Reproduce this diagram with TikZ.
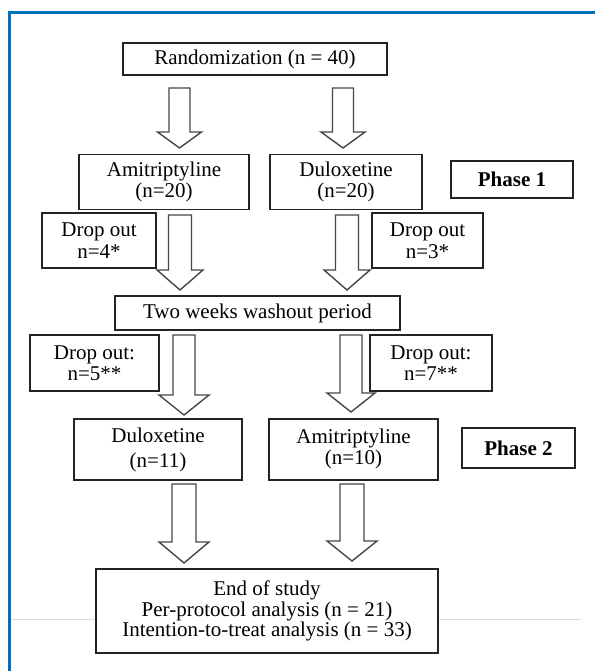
\documentclass[tikz,border=0pt]{standalone}
\usepackage{fontspec}
\setmainfont{Liberation Serif}
\definecolor{frameblue}{RGB}{0,112,192}
\definecolor{boxline}{RGB}{35,35,35}
\definecolor{arrowline}{RGB}{70,70,70}
\definecolor{faintgray}{RGB}{220,220,220}
\newcommand{\blockarrow}[6]{% cx, ytop, yhead, ytip, shaft half, head half
  \draw[arrowshape] ({#1-#5},#2) -- ({#1+#5},#2) -- ({#1+#5},#3) -- ({#1+#6},#3)
    -- (#1,#4) -- ({#1-#6},#3) -- ({#1-#5},#3) -- cycle;}
\begin{document}
\begin{tikzpicture}[x=1pt,y=-1pt,
  box/.style={draw=boxline, line width=1.1pt, fill=white, inner sep=0pt,
    align=center, font=\fontsize{21}{21.5}\selectfont},
  phasebox/.style={box, font=\fontsize{21}{21}\selectfont\bfseries},
  arrowshape/.style={draw=arrowline, line width=1.4pt, fill=white, line join=miter}]
\useasboundingbox (0,0) rectangle (595,671);
\fill[white] (0,0) rectangle (595,671);
% frame
\draw[frameblue, line width=3pt] (595,13) -- (9,13) -- (9,671);
\draw[faintgray, line width=1pt] (11,619) -- (581,619);
% boxes
\node[box, minimum width=264pt, minimum height=32pt] (rand) at (255,59) {Randomization (n = 40)};
\node[box, minimum width=170pt, minimum height=55pt] (ami1) at (164,182) {Amitriptyline\\(n=20)};
\node[box, minimum width=152pt, minimum height=55pt] (dul1) at (346,182) {Duloxetine\\(n=20)};
\node[phasebox, minimum width=122pt, minimum height=37pt] (ph1) at (512,179.5) {Phase 1};
\node[box, minimum width=114pt, minimum height=55pt] (dropA) at (99,240.5) {Drop out\\n=4*};
\node[box, minimum width=111pt, minimum height=55pt] (dropB) at (427.5,240.5) {Drop out\\n=3*};
\node[box, minimum width=285pt, minimum height=34pt] (wash) at (257.5,313) {Two weeks washout period};
\node[box, minimum width=129pt, minimum height=56pt] (dropC) at (94.5,363) {Drop out:\\n=5**};
\node[box, minimum width=122pt, minimum height=56pt] (dropD) at (431,363) {Drop out:\\n=7**};
\node[box, minimum width=168pt, minimum height=61pt, font=\fontsize{21}{25}\selectfont] (dul2) at (158,449.5) {Duloxetine\\(n=11)};
\node[box, minimum width=169pt, minimum height=61pt] (ami2) at (353.5,449.5) {\raisebox{4pt}{\begin{tabular}{@{}c@{}}Amitriptyline\\[-1pt](n=10)\end{tabular}}};
\node[phasebox, minimum width=113pt, minimum height=40pt] (ph2) at (518.5,448) {Phase 2};
\node[box, minimum width=342pt, minimum height=84pt, font=\fontsize{21}{20.5}\selectfont] (endst) at (267,611) {End of study\\Per-protocol analysis (n = 21)\\Intention-to-treat analysis (n = 33)};
% block arrows
\blockarrow{179.5}{88}{132}{148}{10.5}{22}
\blockarrow{343}{88}{132}{148}{10.5}{22}
\blockarrow{180}{215}{270}{290}{11.5}{23}
\blockarrow{347}{215}{270}{290}{11.5}{23}
\blockarrow{184}{335}{395}{415}{11}{25}
\blockarrow{351}{335}{393}{412}{11}{24}
\blockarrow{184}{484}{542}{563}{12}{25}
\blockarrow{352}{484}{541}{561}{12}{25}
\end{tikzpicture}
\end{document}
